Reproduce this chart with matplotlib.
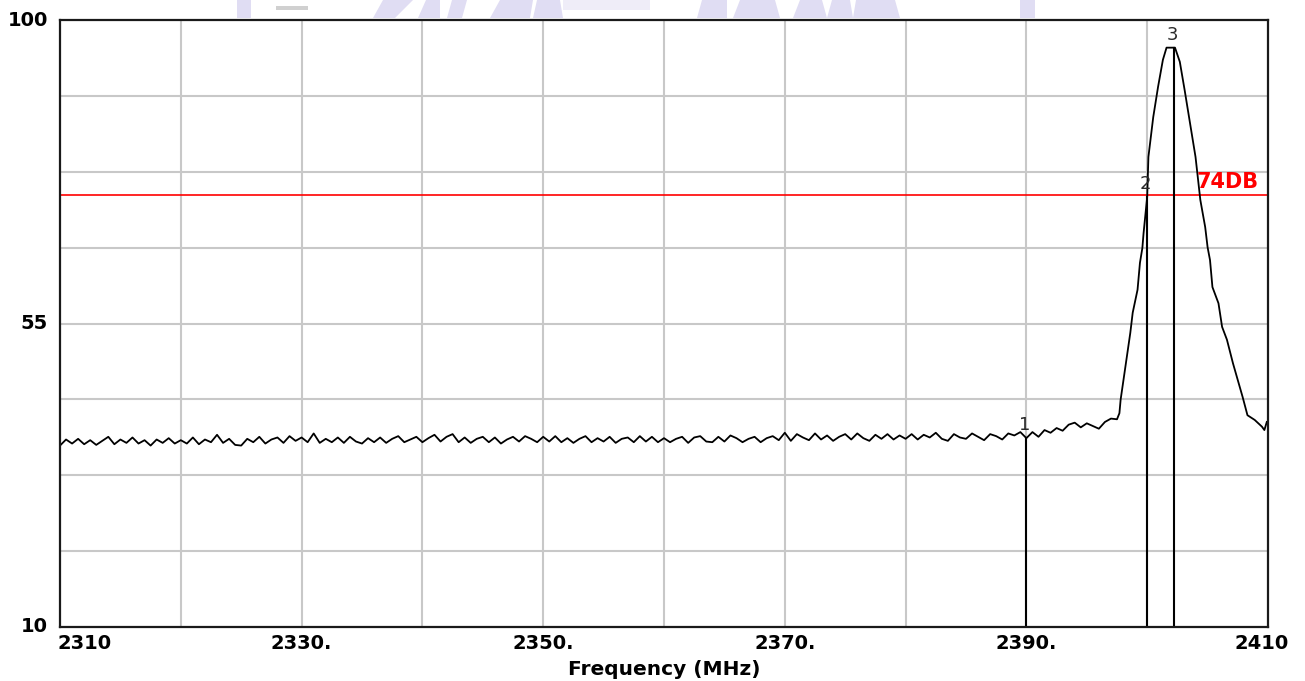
import numpy as np
import matplotlib.pyplot as plt
from matplotlib.patches import Rectangle, Polygon

# sweep settings
f_start = 2310.0
f_stop = 2410.0
f_step = 0.5

# noise floor readings (dB), one per 0.5 MHz from 2310.0 to 2397.5
noise_db = [
    36.9, 37.8, 37.2, 37.9, 37.1, 37.7, 37.0, 37.6, 38.2, 37.1, 37.8, 37.3, 38.1, 37.2, 37.7, 36.9, 37.8, 37.3, 38.0, 37.2,
    37.7, 37.2, 38.1, 37.1, 37.8, 37.4, 38.5, 37.3, 37.9, 37.0, 36.9, 37.9, 37.4, 38.2, 37.2, 37.8, 38.1, 37.3, 38.3, 37.6,
    38.1, 37.4, 38.7, 37.3, 37.9, 37.4, 38.1, 37.3, 38.2, 37.5, 37.2, 38.0, 37.4, 38.1, 37.3, 37.9, 38.3, 37.4, 37.8, 38.2,
    37.4, 38.0, 38.5, 37.5, 38.2, 38.6, 37.4, 38.1, 37.3, 37.9, 38.2, 37.4, 38.1, 37.2, 37.8, 38.2, 37.5, 38.3, 37.9, 37.4,
    38.2, 37.5, 38.3, 37.4, 38.0, 37.3, 37.9, 38.3, 37.4, 38.0, 37.5, 38.2, 37.3, 37.9, 38.1, 37.4, 38.3, 37.5, 38.2, 37.4,
    38.0, 37.4, 37.9, 38.2, 37.3, 38.1, 38.3, 37.5, 37.4, 38.2, 37.5, 38.4, 38.0, 37.4, 37.9, 38.2, 37.4, 38.0, 38.3, 37.7,
    38.8, 37.6, 38.6, 38.1, 37.7, 38.7, 37.8, 38.4, 37.6, 38.2, 38.6, 37.8, 38.7, 38.0, 37.6, 38.5, 37.9, 38.6, 37.8, 38.4,
    37.9, 38.6, 37.8, 38.5, 38.1, 38.8, 37.9, 37.6, 38.6, 38.1, 37.9, 38.7, 38.2, 37.7, 38.6, 38.3, 37.8, 38.7, 38.4, 38.9,
    38.0, 38.9, 38.2, 39.2, 38.8, 39.5, 39.1, 40.0, 40.3, 39.6, 40.2, 39.8, 39.4, 40.4, 40.9, 40.8,
]

# carrier region, read point by point
peak_mhz = [2397.7, 2397.8, 2398.0, 2398.3, 2398.6, 2398.8, 2399.2, 2399.4, 2399.6, 2399.7,
            2400.0, 2400.1, 2400.5, 2400.9, 2401.3, 2401.6, 2402.3, 2402.7, 2403.1, 2403.5,
            2404.0, 2404.4, 2404.8, 2405.0, 2405.2, 2405.4, 2405.9, 2406.2, 2406.6, 2407.1,
            2407.5, 2407.9, 2408.3, 2408.9, 2409.5, 2409.7, 2409.9]
peak_db = [41.7, 43.7, 46.2, 50.0, 53.6, 56.6, 60.0, 64.0, 66.2, 68.4,
           73.8, 79.7, 85.6, 90.1, 94.1, 95.9, 95.9, 93.8, 89.6, 85.2,
           79.7, 73.3, 69.3, 66.3, 64.4, 60.4, 58.0, 54.5, 52.6, 49.1,
           46.6, 44.1, 41.4, 40.7, 39.7, 39.2, 40.4]

# markers and threshold
marker_names = ['1', '2', '3']
marker_mhz = [2390.0, 2400.0, 2402.2]
limit_db = 74
limit_text = '74DB'

# axis labels
y_tick_vals = [10, 55, 100]
x_tick_vals = [2310, 2330, 2350, 2370, 2390, 2410]
x_tick_text = ['2310', '2330.', '2350.', '2370.', '2390.', '2410']

freq = f_start + f_step * np.arange(len(noise_db))
freq = np.concatenate([freq, peak_mhz])
level = np.concatenate([noise_db, peak_db])

plt.rcParams['font.family'] = ['DejaVu Sans']

fig = plt.figure(figsize=(13.05, 6.81), dpi=100)
ax = fig.add_axes([60 / 1305, 1 - 627 / 681, 1208 / 1305, 607 / 681])

# faint logo remnants along the top edge (pixel units, slanted strokes)
lav = '#e0ddf3'
H = 681.0
W = 1305.0
strokes = [
    (237, 251, 237, 251), (373, 395, 383, 413), (418, 440, 426, 440),
    (447, 462, 452, 467), (490, 530, 500, 533), (533, 563, 537, 560),
    (697, 727, 702, 727), (733, 780, 740, 775), (793, 827, 800, 822),
    (827, 853, 832, 850), (853, 900, 856, 895), (1020, 1035, 1020, 1035),
]
for xb0, xb1, xt0, xt1 in strokes:
    pts = [(xb0 / W, 1 - 18 / H), (xb1 / W, 1 - 18 / H), (xt1 / W, 1.0), (xt0 / W, 1.0)]
    fig.patches.append(Polygon(pts, closed=True, transform=fig.transFigure,
                               color=lav, lw=0, zorder=0))
fig.patches.append(Rectangle((563 / W, 1 - 10 / H), 87 / W, 10 / H,
                             transform=fig.transFigure, color='#efedf8', lw=0, zorder=0))
fig.patches.append(Rectangle((276 / W, 1 - 10 / H), 32 / W, 4 / H,
                             transform=fig.transFigure, color='#d0d0d0', lw=0, zorder=0))

ax.set_xlim(f_start, f_stop)
ax.set_ylim(10, 100)

# grid: 10 MHz columns, 8 rows
for gx in np.arange(f_start + 10, f_stop, 10):
    ax.axvline(gx, color='#c8c8c8', lw=1.5, zorder=1)
for gy in np.linspace(10, 100, 9)[1:-1]:
    ax.axhline(gy, color='#c8c8c8', lw=1.5, zorder=1)

ax.set_xticks([])
ax.set_yticks([])
for sp in ax.spines.values():
    sp.set_color('#1a1a1a')
    sp.set_linewidth(1.6)
    sp.set_zorder(5)

# threshold line
ax.axhline(limit_db, color='#ff0000', lw=1.2, zorder=2)
ax.text(2404.1, limit_db + 0.5, limit_text, color='#ff0000', fontsize=15,
        fontweight='bold', ha='left', va='bottom', zorder=6)

# trace
ax.plot(freq, level, color='black', lw=1.3, zorder=3)

# markers
for name, fm in zip(marker_names, marker_mhz):
    top = np.interp(fm, freq, level)
    ax.plot([fm, fm], [10, top], color='black', lw=1.5, zorder=4)
    ax.text(fm - 0.15, top + 0.6, name, color='#2a2a2a', fontsize=13,
            ha='center', va='bottom', zorder=6)

# tick labels
for v in y_tick_vals:
    ax.text(-0.01, (v - 10) / 90, str(v), transform=ax.transAxes, fontsize=14,
            fontweight='bold', ha='right', va='center')
xt = ax.get_xaxis_transform()
for v, s in zip(x_tick_vals, x_tick_text):
    ha = 'center'
    xv = v
    if v == f_start:
        ha = 'left'
        xv = v - 0.2
    elif v == f_stop:
        xv = v - 0.5
    ax.text(xv, -0.012, s, transform=xt, fontsize=14, fontweight='bold',
            ha=ha, va='top')
ax.text(0.5, -0.055, 'Frequency (MHz)', transform=ax.transAxes, fontsize=14.5,
        fontweight='bold', ha='center', va='top')

fig.savefig('out.png', dpi=100)
